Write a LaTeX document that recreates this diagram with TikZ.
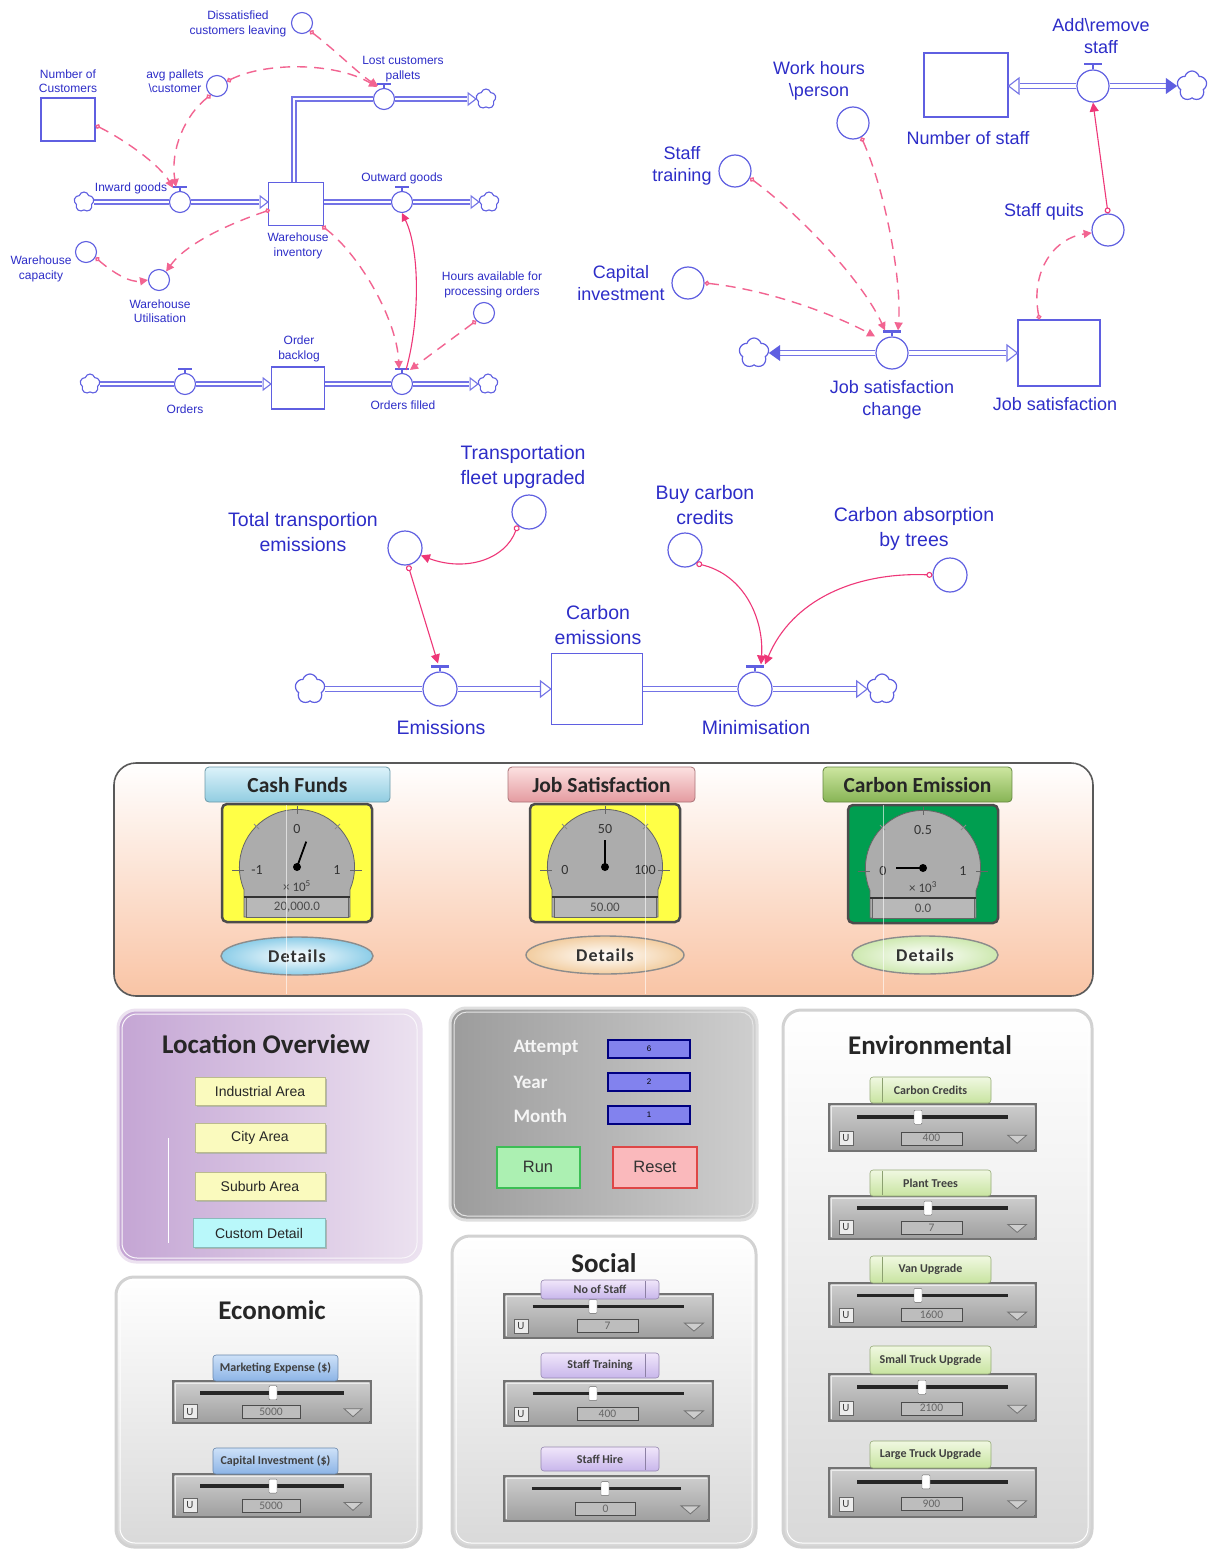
\documentclass[tikz,border=0pt]{standalone}
\usepackage{fontspec}
\setmainfont{Liberation Sans}
\newfontfamily\calfont{Carlito}
\newfontfamily\calspaced{Carlito}[LetterSpace=6]
\usetikzlibrary{arrows.meta,shapes.symbols,calc}

\definecolor{tblue}{RGB}{45,45,200}
\definecolor{sblue}{RGB}{95,95,225}
\definecolor{pblue}{RGB}{115,115,230}
\definecolor{lpink}{RGB}{238,55,120}
\definecolor{dpink}{RGB}{242,100,145}
\definecolor{peach}{RGB}{249,196,165}
\definecolor{cashA}{RGB}{220,242,250}
\definecolor{cashB}{RGB}{145,205,225}
\definecolor{jobA}{RGB}{252,225,225}
\definecolor{jobB}{RGB}{228,155,160}
\definecolor{carA}{RGB}{205,230,160}
\definecolor{carB}{RGB}{135,180,85}
\definecolor{gyel}{RGB}{255,255,70}
\definecolor{ggreen}{RGB}{0,158,80}
\definecolor{dialg}{RGB}{172,172,172}
\definecolor{detblue}{RGB}{140,205,232}
\definecolor{detpeach}{RGB}{242,205,160}
\definecolor{detgreen}{RGB}{205,232,175}
\definecolor{slA}{RGB}{205,205,205}
\definecolor{slB}{RGB}{160,160,160}
\definecolor{purA}{RGB}{196,165,212}
\definecolor{purB}{RGB}{236,226,240}
\definecolor{btnY}{RGB}{250,250,190}
\definecolor{btnC}{RGB}{185,248,250}
\definecolor{vbox}{RGB}{130,130,238}
\definecolor{runG}{RGB}{172,240,178}
\definecolor{runGd}{RGB}{60,190,85}
\definecolor{resR}{RGB}{250,185,188}
\definecolor{resRd}{RGB}{222,70,70}
\definecolor{ecoA}{RGB}{205,225,248}
\definecolor{ecoB}{RGB}{140,180,230}
\definecolor{socA}{RGB}{240,230,250}
\definecolor{socB}{RGB}{200,182,235}
\definecolor{envA}{RGB}{240,248,225}
\definecolor{envB}{RGB}{200,228,160}

\tikzset{
 lbl/.style={text=tblue, align=center, inner sep=0pt, font=\fontsize{12}{14.5}\selectfont},
 lblL/.style={text=tblue, align=center, inner sep=0pt, font=\fontsize{18}{22.5}\selectfont},
 lblM/.style={text=tblue, align=center, inner sep=0pt, font=\fontsize{19.5}{24.5}\selectfont},
 aux/.style={circle, draw=sblue, line width=1.1pt, minimum size=21pt, inner sep=0pt},
 auxL/.style={circle, draw=sblue, line width=1.2pt, minimum size=32pt, inner sep=0pt},
 auxM/.style={circle, draw=sblue, line width=1.2pt, minimum size=34pt, inner sep=0pt},
 stock/.style={rectangle, draw=sblue, line width=1.2pt, inner sep=0pt},
 pipe/.style={draw=pblue, double=white, double distance=2.6pt, line width=1.3pt},
 pipeL/.style={draw=pblue, double=white, double distance=3.4pt, line width=1.5pt},
 cloudS/.style={cloud, cloud puffs=5, draw=sblue, line width=1.1pt, minimum width=20pt, minimum height=20pt, inner sep=0pt},
 cloudL/.style={cloud, cloud puffs=5, draw=sblue, line width=1.2pt, minimum width=30pt, minimum height=30pt, inner sep=0pt},
 dlink/.style={draw=dpink, line width=1.4pt, dash pattern=on 10pt off 7pt, {Circle[open,length=5pt,width=5pt]}-{Triangle[length=8pt,width=8pt]}},
 slink/.style={draw=lpink, line width=1.1pt, {Circle[open,length=6pt,width=6pt]}-{Triangle[length=9pt,width=9pt]}},
 sarrow/.style={draw=lpink, line width=1.1pt, -{Triangle[length=8pt,width=8pt]}},
 ttl/.style={font=\calfont\bfseries\fontsize{27}{27}\selectfont, text=black!85, inner sep=0pt},
}

% valve tee: node, half width, stem
\newcommand{\valvetee}[3]{%
 \draw[sblue, line width=1.2pt] (#1.north) -- ++(0,-#3);
 \draw[sblue, line width=2.2pt] ($(#1.north)+(-#2,-#3)$) -- ($(#1.north)+(#2,-#3)$);}
% open arrow heads (tip at coordinate)
\newcommand{\openR}[2]{\draw[pblue, line width=1.1pt, fill=white] ($(#1)+(-#2*1.3,-#2)$) -- (#1) -- ($(#1)+(-#2*1.3,#2)$) -- cycle;}
\newcommand{\openL}[2]{\draw[pblue, line width=1.1pt, fill=white] ($(#1)+(#2*1.3,-#2)$) -- (#1) -- ($(#1)+(#2*1.3,#2)$) -- cycle;}
\newcommand{\fillR}[2]{\fill[sblue] ($(#1)+(-#2*1.4,-#2)$) -- (#1) -- ($(#1)+(-#2*1.4,#2)$) -- cycle;}
\newcommand{\fillL}[2]{\fill[sblue] ($(#1)+(#2*1.4,-#2)$) -- (#1) -- ($(#1)+(#2*1.4,#2)$) -- cycle;}

% gauge: cx, ytop, bg, top, left, right, multiplier, readout, needle angle
\newcommand{\mkgauge}[9]{%
 \pgfmathsetmacro{\gyc}{#2+63}%
 \draw[rounded corners=5pt, fill=#3, draw=black!70, line width=2.5pt] ({#1-75},#2) rectangle ({#1+75},{#2+118});
 \draw[fill=dialg, draw=black!60, line width=0.8pt] ({#1-53},{\gyc+22.6}) arc[start angle=156.9, end angle=383.1, radius=57.6] -- ({#1+53},{#2+113}) -- ({#1-53},{#2+113}) -- cycle;
 \draw[black!60, line width=0.9pt] (#1,{\gyc-61}) -- (#1,{\gyc-53});
 \draw[black!60, line width=0.9pt] ({#1-65},{\gyc+3}) -- ({#1-53},{\gyc+3});
 \draw[black!60, line width=0.9pt] ({#1+53},{\gyc+3}) -- ({#1+65},{\gyc+3});
 \draw[black!45, line width=0.8pt] ({#1-38},{\gyc-38}) -- ({#1-43},{\gyc-43});
 \draw[black!45, line width=0.8pt] ({#1+38},{\gyc-38}) -- ({#1+43},{\gyc-43});
 \node[font=\calfont\fontsize{14}{14}\selectfont, text=black!80] at (#1,{\gyc-38}) {#4};
 \node[font=\calfont\fontsize{14}{14}\selectfont, text=black!80] at ({#1-40},{\gyc+3}) {#5};
 \node[font=\calfont\fontsize{14}{14}\selectfont, text=black!80] at ({#1+40},{\gyc+3}) {#6};
 \node[font=\calfont\fontsize{13}{13}\selectfont, text=black!75] at (#1,{\gyc+19}) {#7};
 \draw[fill=dialg!85!white, draw=black!60] ({#1-51},{#2+93}) rectangle ({#1+51},{#2+113});
 \draw[black!80, line width=1.6pt] ({#1-53},{#2+93}) -- ({#1+53},{#2+93});
 \node[font=\calfont\fontsize{13}{13}\selectfont, text=black!70] at (#1,{#2+103.5}) {#8};
 \draw[black, line width=1.8pt] (#1,\gyc) -- ++(#9:27);
 \fill[black] (#1,\gyc) circle (4pt);
}
% dashboard tab
\newcommand{\dtab}[7]{%
 \draw[rounded corners=4pt, draw=#6!75!black, line width=0.8pt, top color=#5, bottom color=#6] (#1,#2) rectangle (#3,#4);
 \node[font=\calfont\bfseries\fontsize{21.5}{21.5}\selectfont, text=black!85] at ({(#1+#3)/2},{(#2+#4)/2+1}) {#7};}
% details button
\newcommand{\details}[5]{%
 \draw[draw=black!45, line width=1.4pt, inner color=white, outer color=#5] (#1,#2) ellipse [x radius=#3, y radius=#4];
 \node[font=\calspaced\bfseries\fontsize{18}{18}\selectfont, text=black!80] at (#1,#2) {Details};}
% slider tab
\newcommand{\sltab}[7]{%
 \draw[rounded corners=3pt, draw=#6!75!black, line width=0.6pt, top color=#5, bottom color=#6] (#1,#2) rectangle (#3,#4);
 \node[font=\calfont\bfseries\fontsize{12}{12}\selectfont, text=black!75] at ({(#1+#3)/2},{(#2+#4)/2}) {#7};}
% slider: x1 y1 x2 y2 knobx value showU
\newcommand{\mkslider}[7]{%
 \pgfmathsetmacro{\slw}{#3-#1}%
 \pgfmathsetmacro{\slh}{#4-#2}%
 \pgfmathsetmacro{\slty}{#2+0.29*\slh}%
 \pgfmathsetmacro{\slvy}{#2+0.72*\slh}%
 \fill[black!55] (#1,#2) rectangle (#3,#4);
 \fill[top color=slA, bottom color=slB] ({#1+2.5},{#2+2.5}) rectangle ({#3-2.5},{#4-2.5});
 \draw[white!85!gray, line width=1pt] ({#1+3.5},{#4-3.5}) -- ({#1+3.5},{#2+3.5}) -- ({#3-3.5},{#2+3.5});
 \draw[black!85, line width=3.5pt] ({#1+0.14*\slw},\slty) -- ({#1+0.86*\slw},\slty);
 \draw[black!60, fill=white, rounded corners=1pt] ({#5-4},{\slty-7}) rectangle ({#5+4},{\slty+7});
 \ifnum#7=1
  \draw[black!60, fill=white!85!gray] ({#1+11},{\slvy-7}) rectangle ({#1+25},{\slvy+7});
  \node[font=\calfont\fontsize{11}{11}\selectfont, text=black!75] at ({#1+18},\slvy) {U};
 \fi
 \draw[black!70, fill=slB!70!white] ({#1+0.35*\slw},{\slvy-6.5}) rectangle ({#1+0.64*\slw},{\slvy+6.5});
 \node[font=\calfont\fontsize{11.5}{11.5}\selectfont, text=black!60] at ({#1+0.495*\slw},\slvy) {#6};
 \draw[black!55, fill=slA, line width=0.8pt] ({#1+0.86*\slw},{\slvy-3}) -- ({#1+0.95*\slw},{\slvy-3}) -- ({#1+0.905*\slw},{\slvy+5}) -- cycle;
}
\newcommand{\lpanel}[4]{%
 \draw[rounded corners=18pt, draw=gray!35, line width=3pt, top color=white, bottom color=gray!30] (#1,#2) rectangle (#3,#4);
 \draw[rounded corners=15pt, draw=white, line width=1pt] ({#1+4},{#2+4}) rectangle ({#3-4},{#4-4});}
\newcommand{\locbtn}[5]{%
 \fill[black!30] ({#1+2},{#2+2}) rectangle ({#3+2},{#4+2});
 \draw[draw=#5!75!black, line width=0.8pt, fill=#5] (#1,#2) rectangle (#3,#4);}

\begin{document}
\begin{tikzpicture}[x=1pt,y=-1pt]
\useasboundingbox (0,0) rectangle (1207,1549);
\fill[white] (0,0) rectangle (1207,1549);

%================ TOP LEFT =================
\node[lbl] (disT) at (238,24) {Dissatisfied\\customers leaving};
\node[aux] (dis) at (302,23) {};
\node[lbl] (ncT) at (68,81) {Number of\\Customers};
\node[stock, minimum width=54pt, minimum height=43pt] (nc) at (68,119.5) {};
\node[lbl] (apT) at (175,81) {avg pallets\\\textbackslash customer};
\node[aux] (ap) at (217,86) {};
\node[lbl] (lcT) at (403,69) {Lost customers\\pallets};
\node[aux] (lc) at (384,99) {};
\node[cloudS] (c1) at (486,99) {};
\node[stock, minimum width=55pt, minimum height=43pt] (wi) at (296,204) {};
\node[lbl] (wiT) at (298,246) {Warehouse\\inventory};
\node[aux] (ig) at (180,202) {};
\node[lbl] (igT) at (131,188) {Inward goods};
\node[cloudS] (c0) at (84,202) {};
\node[aux] (og) at (402,202) {};
\node[lbl] (ogT) at (402,178) {Outward goods};
\node[cloudS] (c2) at (489,202) {};
\node[lbl] (wcT) at (41,269) {Warehouse\\capacity};
\node[aux] (wc) at (86,252) {};
\node[aux] (wu) at (159,280) {};
\node[lbl] (wuT) at (160,311) {Warehouse\\Utilisation};
\node[lbl] (haT) at (492,285) {Hours available for\\processing orders};
\node[aux] (ha) at (484,313) {};
\node[lbl] (obT) at (299,349) {Order\\backlog};
\node[stock, minimum width=53pt, minimum height=42pt] (ob) at (298,388) {};
\node[aux] (or) at (185,384) {};
\node[lbl] (orT) at (185,409) {Orders};
\node[cloudS] (c3) at (90,384) {};
\node[aux] (of) at (402,384) {};
\node[lbl] (ofT) at (403,405) {Orders filled};
\node[cloudS] (c4) at (488,384) {};

% pipes
\coordinate (p1) at (ig.east -| wi.west);
\draw[pipe] (ig.west -| c0.east) -- (ig.west);
\draw[pipe, shorten >=9pt] (ig.east) -- (p1);
\openR{p1}{6}
\coordinate (q1) at (lc.east -| c1.west);
\draw[pipe] ([xshift=-2pt]wi.north) |- (lc.west);
\draw[pipe, shorten >=9pt] (lc.east) -- (q1);
\openR{q1}{6}
\coordinate (p2) at (og.west -| wi.east);
\coordinate (q2) at (og.east -| c2.west);
\draw[pipe] (p2) -- (og.west);
\draw[pipe, shorten >=9pt] (og.east) -- (q2);
\openR{q2}{6}
\coordinate (p3) at (or.east -| ob.west);
\draw[pipe] (or.west -| c3.east) -- (or.west);
\draw[pipe, shorten >=9pt] (or.east) -- (p3);
\openR{p3}{6}
\coordinate (p4) at (of.west -| ob.east);
\coordinate (q4) at (of.east -| c4.west);
\draw[pipe] (p4) -- (of.west);
\draw[pipe, shorten >=9pt] (of.east) -- (q4);
\openR{q4}{6}
\valvetee{ig}{7}{4}
\valvetee{lc}{7}{4}
\valvetee{og}{7}{4}
\valvetee{or}{7}{4}
\valvetee{of}{7}{4}

% links
\draw[dlink] (nc.-12) .. controls (125,140) and (160,165) .. ($(ig.north)+(-7,-3)$);
\draw[dlink] (ap.-125) .. controls (185,115) and (170,150) .. ($(ig.north)+(-4,-4)$);
\draw[dlink] (ap.25) .. controls (265,62) and (335,62) .. ($(lc.north)+(-7,-1)$);
\draw[dlink] (dis.-45) .. controls (335,50) and (360,75) .. ($(lc.north)+(-6,-2)$);
\draw[dlink] ($(wi.west)+(2,6)$) .. controls (225,225) and (185,245) .. (wu.50);
\draw[dlink] (wc.-30) .. controls (112,272) and (130,283) .. (wu.west);
\draw[dlink] ($(wi.south east)+(-2,0)$) .. controls (360,255) and (397,320) .. ($(of.north)+(-3,-4)$);
\draw[dlink] (ha.-135) -- ($(of.north)+(8,-3)$);
\draw[sarrow] ($(of.north)+(4,-3)$) .. controls (420,320) and (420,250) .. (og.south);

%================ TOP RIGHT =================
\node[lblL] (arT) at (1101,36) {Add\textbackslash remove\\staff};
\node[auxL] (ar) at (1093,86) {};
\node[stock, minimum width=84pt, minimum height=64pt] (ns) at (966,85) {};
\node[lblL] (nsT) at (968,138) {Number of staff};
\node[cloudL] (c5) at (1192,86) {};
\node[lblL] (whT) at (819,81) {Work hours\\\textbackslash person};
\node[auxL] (wh) at (853,123) {};
\node[lblL] (stT) at (682,166) {Staff\\training};
\node[auxL] (st) at (735,171) {};
\node[lblL] (ciT) at (621,283) {Capital\\investment};
\node[auxL] (ci) at (688,283) {};
\node[lblL] (sqT) at (1044,212) {Staff quits};
\node[auxL] (sq) at (1108,230) {};
\node[auxL] (jsc) at (892,353) {};
\node[lblL] (jscT) at (892,400) {Job satisfaction\\change};
\node[cloudL] (c6) at (754,353) {};
\node[stock, minimum width=82pt, minimum height=66pt] (js) at (1059,353) {};
\node[lblL] (jsT) at (1055,404) {Job satisfaction};

\coordinate (p5) at (ar.west -| ns.east);
\coordinate (q5) at (ar.east -| c5.west);
\draw[pipeL, shorten >=11pt] (ar.west) -- (p5);
\openL{p5}{8}
\draw[pipeL, shorten >=11pt] (ar.east) -- (q5);
\fillR{q5}{8}
\coordinate (q6) at (jsc.west -| c6.east);
\draw[pipeL, shorten >=11pt] (jsc.west) -- (q6);
\fillL{q6}{8}
\coordinate (p6) at (jsc.east -| js.west);
\draw[pipeL, shorten >=11pt] (jsc.east) -- (p6);
\openR{p6}{8}
\valvetee{ar}{9}{5}
\valvetee{jsc}{9}{5}

\draw[dlink] (wh.-60) .. controls (885,190) and (902,280) .. ($(jsc.north)+(6,-6)$);
\draw[dlink] (st.-25) .. controls (800,215) and (862,280) .. ($(jsc.north)+(-7,-6)$);
\draw[dlink] (ci.0) .. controls (770,290) and (835,315) .. ($(jsc.north)+(-17,0)$);
\draw[dlink] ($(js.north west)+(22,0)$) .. controls (1030,270) and (1055,238) .. (sq.190);
\draw[slink] (sq.north) -- (ar.south);

%================ MIDDLE =================
\node[lblM] (tfT) at (523,467) {Transportation\\fleet upgraded};
\node[auxM] (tf) at (529,512) {};
\node[lblM] (ttT) at (303,532) {Total transportion\\emissions};
\node[auxM] (tt) at (405,548) {};
\node[lblM] (bcT) at (705,505) {Buy carbon\\credits};
\node[auxM] (bc) at (685,550) {};
\node[lblM] (caT) at (914,529) {Carbon absorption\\by trees};
\node[auxM] (ca) at (950,575) {};
\node[lblM] (ceT) at (598,625) {Carbon\\emissions};
\node[stock, minimum width=91pt, minimum height=71pt] (ce) at (597,689) {};
\node[auxM] (em) at (440,689) {};
\node[lblM] (emT) at (441,728) {Emissions};
\node[auxM] (mi) at (755,689) {};
\node[lblM] (miT) at (756,728) {Minimisation};
\node[cloudL] (c7) at (310,689) {};
\node[cloudL] (c8) at (882,689) {};

\draw[pipeL] (em.west -| c7.east) -- (em.west);
\coordinate (p7) at (em.east -| ce.west);
\draw[pipeL, shorten >=11pt] (em.east) -- (p7);
\openR{p7}{8}
\coordinate (p8) at (mi.west -| ce.east);
\coordinate (q8) at (mi.east -| c8.west);
\draw[pipeL] (p8) -- (mi.west);
\draw[pipeL, shorten >=11pt] (mi.east) -- (q8);
\openR{q8}{8}
\valvetee{em}{9}{5}
\valvetee{mi}{9}{5}

\draw[slink] (tf.-130) .. controls (505,560) and (465,572) .. (tt.-25);
\draw[slink] (tt.-80) -- ($(em.north)+(-2,-8)$);
\draw[slink] (bc.-50) .. controls (745,575) and (764,620) .. ($(mi.north)+(6,-7)$);
\draw[slink] (ca.west) .. controls (855,572) and (792,600) .. ($(mi.north)+(10,-7)$);

%================ DASHBOARD =================
\draw[rounded corners=22pt, draw=black!65, line width=1.6pt, top color=white, bottom color=peach] (114,763) rectangle (1093,996);
\dtab{205}{767}{390}{802}{cashA}{cashB}{Cash Funds}
\dtab{508}{767}{695}{802}{jobA}{jobB}{Job Satisfaction}
\dtab{823}{767}{1012}{802}{carA}{carB}{Carbon Emission}
\mkgauge{297}{804}{gyel}{0}{-1}{1}{× 10\textsuperscript{5}}{20,000.0}{-70}
\mkgauge{605}{804}{gyel}{50}{0}{100}{}{50.00}{-90}
\mkgauge{923}{805}{ggreen}{0.5}{0}{1}{× 10\textsuperscript{3}}{0.0}{180}
\details{297}{956}{76}{19}{detblue}
\details{605}{955}{79}{19}{detpeach}
\details{925}{955}{73}{19}{detgreen}
\draw[white, line width=0.8pt, opacity=0.6] (286,805) -- (286,994);
\draw[white, line width=0.8pt, opacity=0.6] (645,805) -- (645,994);
\draw[white, line width=0.8pt, opacity=0.6] (883,805) -- (883,994);

%================ LOCATION OVERVIEW =================
\draw[rounded corners=18pt, draw=purB, line width=3pt, left color=purA, right color=purB] (118,1010) rectangle (421,1262);
\draw[rounded corners=15pt, draw=white!70!purB, line width=1pt] (122,1014) rectangle (417,1258);
\draw[white, line width=0.8pt] (168,1138) -- (168,1243);
\node[ttl] (locT) at (266,1044) {Location Overview};
\locbtn{195}{1077}{325}{1105}{btnY}
\node[font=\fontsize{14}{14}\selectfont, text=black!85] (b1) at (260,1091) {Industrial Area};
\locbtn{195}{1123}{325}{1152}{btnY}
\node[font=\fontsize{14}{14}\selectfont, text=black!85] (b2) at (260,1138) {City Area};
\locbtn{195}{1172}{325}{1200}{btnY}
\node[font=\fontsize{14}{14}\selectfont, text=black!85] (b3) at (260,1186) {Suburb Area};
\locbtn{193}{1218}{325}{1247}{btnC}
\node[font=\fontsize{14}{14}\selectfont, text=black!85] (b4) at (259,1233) {Custom Detail};

%================ ATTEMPT PANEL =================
\draw[rounded corners=16pt, draw=gray!25, line width=3pt, left color=gray!78, right color=gray!38] (450,1008) rectangle (757,1220);
\draw[rounded corners=13pt, draw=white!80!gray, line width=1pt] (454,1012) rectangle (753,1216);
\node[font=\calfont\bfseries\fontsize{19}{19}\selectfont, text=white!92!gray, anchor=west] (at1) at (510,1048) {Attempt};
\node[font=\calfont\bfseries\fontsize{19}{19}\selectfont, text=white!92!gray, anchor=west] (at2) at (510,1082) {Year};
\node[font=\calfont\bfseries\fontsize{19}{19}\selectfont, text=white!92!gray, anchor=west] (at3) at (510,1116) {Month};
\draw[draw=blue!50!black, line width=1.3pt, fill=vbox] (608,1040) rectangle (690,1058);
\node[font=\fontsize{8}{8}\selectfont] (v1) at (649,1049) {6};
\draw[draw=blue!50!black, line width=1.3pt, fill=vbox] (608,1073) rectangle (690,1091);
\node[font=\fontsize{8}{8}\selectfont] (v2) at (649,1082) {2};
\draw[draw=blue!50!black, line width=1.3pt, fill=vbox] (608,1106) rectangle (690,1124);
\node[font=\fontsize{8}{8}\selectfont] (v3) at (649,1115) {1};
\draw[draw=runGd, line width=2pt, fill=runG] (497,1147) rectangle (580,1188);
\node[font=\fontsize{16.5}{16.5}\selectfont, text=black!80] (run) at (538,1167) {Run};
\draw[draw=resRd, line width=2pt, fill=resR] (613,1147) rectangle (697,1188);
\node[font=\fontsize{16.5}{16.5}\selectfont, text=black!80] (reset) at (655,1167) {Reset};

%================ ECONOMIC =================
\lpanel{116}{1277}{421}{1547}
\node[ttl] (ecoT) at (272,1310) {Economic};
\mkslider{172}{1380}{372}{1424}{273}{5000}{1}
\sltab{213}{1355}{338}{1381}{ecoA}{ecoB}{Marketing Expense (\$)}
\mkslider{172}{1473}{372}{1518}{273}{5000}{1}
\sltab{213}{1448}{338}{1474}{ecoA}{ecoB}{Capital Investment (\$)}

%================ SOCIAL =================
\lpanel{452}{1236}{756}{1547}
\node[ttl] (socT) at (604,1263) {Social};
\mkslider{503}{1293}{714}{1339}{593}{7}{1}
\sltab{541}{1280}{659}{1299}{socA}{socB}{No of Staff}
\draw[socB!70!black, line width=0.6pt] (645,1281) -- (645,1298);
\mkslider{503}{1380}{714}{1427}{593}{400}{1}
\sltab{541}{1353}{659}{1378}{socA}{socB}{Staff Training}
\draw[socB!70!black, line width=0.6pt] (645,1354) -- (645,1377);
\mkslider{503}{1475}{710}{1522}{605}{0}{0}
\sltab{541}{1447}{659}{1471}{socA}{socB}{Staff Hire}
\draw[socB!70!black, line width=0.6pt] (645,1448) -- (645,1470);

%================ ENVIRONMENTAL =================
\lpanel{783}{1010}{1092}{1547}
\node[ttl] (envT) at (930,1045) {Environmental};
\mkslider{828}{1103}{1037}{1152}{918}{400}{1}
\sltab{870}{1077}{991}{1103}{envA}{envB}{Carbon Credits}
\draw[envB!70!black, line width=0.6pt] (882,1078) -- (882,1102);
\mkslider{828}{1195}{1037}{1240}{928}{7}{1}
\sltab{870}{1170}{991}{1196}{envA}{envB}{Plant Trees}
\draw[envB!70!black, line width=0.6pt] (882,1171) -- (882,1195);
\mkslider{828}{1282}{1037}{1328}{918}{1600}{1}
\sltab{870}{1256}{991}{1283}{envA}{envB}{Van Upgrade}
\draw[envB!70!black, line width=0.6pt] (882,1257) -- (882,1282);
\mkslider{828}{1373}{1037}{1422}{922}{2100}{1}
\sltab{870}{1346}{991}{1374}{envA}{envB}{Small Truck Upgrade}
\mkslider{828}{1467}{1037}{1518}{926}{900}{1}
\sltab{870}{1441}{991}{1468}{envA}{envB}{Large Truck Upgrade}

\end{tikzpicture}
\end{document}
